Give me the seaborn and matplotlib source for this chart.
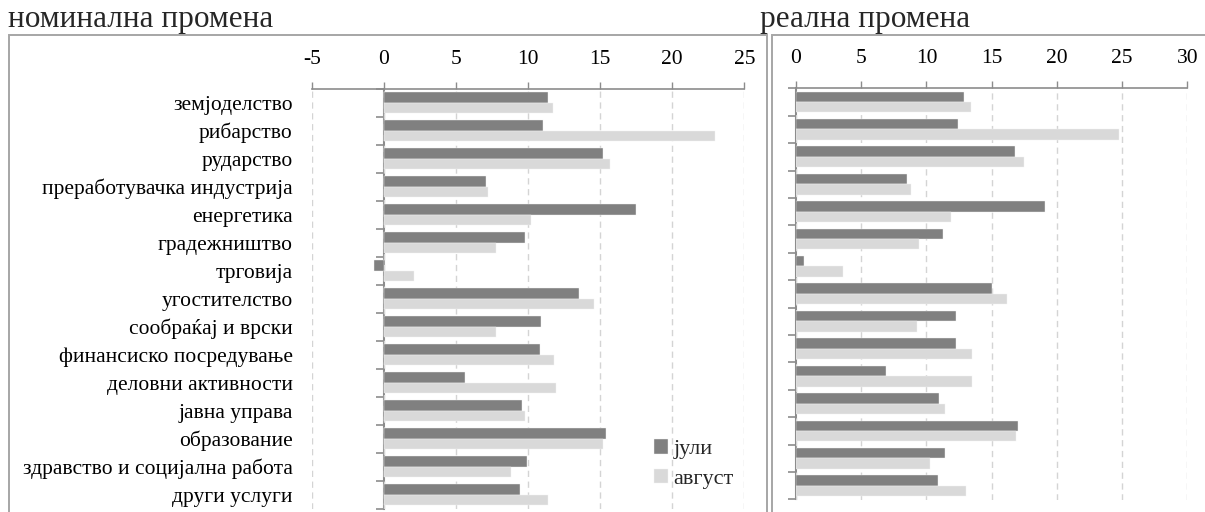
import numpy as np
import pandas as pd
import matplotlib
matplotlib.use("Agg")
import matplotlib.pyplot as plt
from matplotlib.patches import Rectangle
import seaborn as sns

# Sectors (Macedonian) and year-on-year wage change, %, for July and August
sectors = [
    "земјоделство", "рибарство", "рударство", "преработувачка индустрија",
    "енергетика", "градежништво", "трговија", "угостителство",
    "сообраќај и врски", "финансиско посредување", "деловни активности",
    "јавна управа", "образование", "здравство и социјална работа",
    "други услуги",
]
months = ["јули", "август"]

nominal_jul = [11.4, 11.0, 15.2, 7.1, 17.5, 9.8, -0.7, 13.5, 10.9, 10.8, 5.6, 9.6, 15.4, 9.9, 9.4]
nominal_aug = [11.7, 23.0, 15.7, 7.2, 10.2, 7.8, 2.1, 14.6, 7.8, 11.8, 11.9, 9.8, 15.2, 8.8, 11.4]
real_jul = [12.9, 12.4, 16.8, 8.5, 19.1, 11.3, 0.6, 15.0, 12.3, 12.3, 6.9, 11.0, 17.0, 11.4, 10.9]
real_aug = [13.4, 24.8, 17.5, 8.8, 11.9, 9.4, 3.6, 16.2, 9.3, 13.5, 13.5, 11.4, 16.9, 10.3, 13.0]

nominal_ticks = [-5, 0, 5, 10, 15, 20, 25]
real_ticks = [0, 5, 10, 15, 20, 25, 30]

panel_titles = ["номинална промена", "реална промена"]

sns.set_theme(style="white")
plt.rcParams["font.family"] = ["Liberation Serif", "DejaVu Serif"]
plt.rcParams["axes.unicode_minus"] = False

W, H = 1205, 512
DPI = 100
fig = plt.figure(figsize=(W / DPI, H / DPI), dpi=DPI)

palette = {"јули": "#808080", "август": "#d9d9d9"}
axis_grey = "#8c8c8c"
grid_grey = "#d4d4d4"


def long_frame(jul, aug):
    return pd.DataFrame({
        "сектор": sectors * 2,
        "месец": [months[0]] * len(sectors) + [months[1]] * len(sectors),
        "промена": list(jul) + list(aug),
    })


def px_axes(x0, y0, x1, y1):
    return fig.add_axes([x0 / W, 1 - y1 / H, (x1 - x0) / W, (y1 - y0) / H])


def style_panel(ax, ticks, show_labels):
    ax.set_xlim(ticks[0], ticks[-1])
    ax.set_xticks(ticks)
    ax.xaxis.tick_top()
    ax.xaxis.set_label_position("top")
    ax.tick_params(axis="x", which="major", direction="out", length=5, width=1,
                   color=axis_grey, pad=9.5, labelsize=15.5, labelcolor="black")
    ax.set_xlabel("")
    ax.set_ylabel("")
    for side in ["left", "right", "bottom"]:
        ax.spines[side].set_visible(False)
    ax.spines["top"].set_color(axis_grey)
    ax.spines["top"].set_linewidth(1.2)
    ax.grid(axis="x", color=grid_grey, linestyle=(0, (4.5, 3.3)), linewidth=1.0)
    ax.grid(axis="y", visible=False)
    ax.set_axisbelow(True)
    n = len(sectors)
    if show_labels:
        ax.tick_params(axis="y", length=0, pad=14, labelsize=15.5, labelcolor="black")
    else:
        ax.set_yticks(range(n))
        ax.set_yticklabels([])
        ax.tick_params(axis="y", length=0)
    # category axis drawn at value 0, with ticks between categories
    loc = (0 - ticks[0]) / (ticks[-1] - ticks[0])
    sec = ax.secondary_yaxis(loc)
    sec.set_yticks(np.arange(-0.5, n, 1.0))
    sec.set_yticklabels([])
    sec.tick_params(axis="y", direction="out", length=6, width=1.2, color=axis_grey)
    sec.spines["left"].set_color(axis_grey)
    sec.spines["left"].set_linewidth(1.5)


# Nominal change
ax1 = px_axes(312, 88.7, 744.3, 508.7)
sns.barplot(data=long_frame(nominal_jul, nominal_aug), x="промена", y="сектор",
            hue="месец", orient="h", palette=palette, width=0.76,
            edgecolor="#f2f2f2", linewidth=0.3, saturation=1, ax=ax1)
style_panel(ax1, nominal_ticks, True)
handles, labels = ax1.get_legend_handles_labels()
ax1.legend(handles, labels, loc="upper left", bbox_to_anchor=(650 / W, 1 - 435 / H),
           bbox_transform=fig.transFigure, frameon=False, fontsize=16,
           handlelength=0.6, handleheight=0.6, handletextpad=0.25,
           labelspacing=0.42, borderpad=0.2, borderaxespad=0)

# Real change
ax2 = px_axes(796, 88.3, 1187.3, 499.5)
sns.barplot(data=long_frame(real_jul, real_aug), x="промена", y="сектор",
            hue="месец", orient="h", palette=palette, width=0.76,
            edgecolor="#f2f2f2", linewidth=0.3, saturation=1, legend=False, ax=ax2)
style_panel(ax2, real_ticks, False)

# Panel frames and titles
frame_grey = "#a6a6a6"
fig.add_artist(Rectangle((9 / W, -0.1), (766.7 - 9) / W, 1.1 - 35 / H,
                         transform=fig.transFigure, fill=False,
                         edgecolor=frame_grey, linewidth=1.4))
fig.add_artist(Rectangle((771.7 / W, -0.1), 0.5, 1.1 - 35 / H,
                         transform=fig.transFigure, fill=False,
                         edgecolor=frame_grey, linewidth=1.4))
fig.text(8 / W, 1 - 26.5 / H, panel_titles[0], fontsize=22.5, va="baseline", ha="left")
fig.text(760 / W, 1 - 26.5 / H, panel_titles[1], fontsize=22.5, va="baseline", ha="left")

fig.savefig("out.png", dpi=DPI)
